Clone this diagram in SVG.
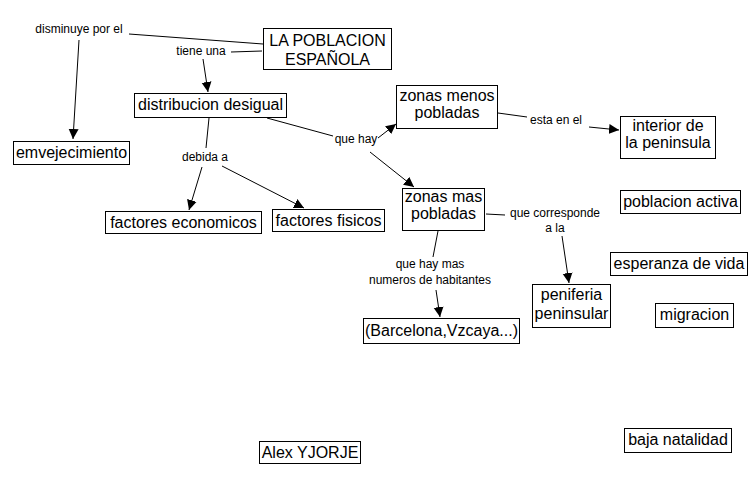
<svg xmlns="http://www.w3.org/2000/svg" width="755" height="484" viewBox="0 0 755 484">
<style>
.n rect{fill:#fff;stroke:#000;stroke-width:1}
.n text{font-family:"Liberation Sans",Arial,sans-serif;font-size:16px;fill:#000;text-anchor:middle}
.l{font-family:"Liberation Sans",Arial,sans-serif;font-size:12px;fill:#000;text-anchor:middle}
.c line{stroke:#000;stroke-width:1}
.a{marker-end:url(#ah)}
</style>
<defs>
<marker id="ah" viewBox="0 0 10 10" refX="10" refY="5" markerWidth="10" markerHeight="11" markerUnits="userSpaceOnUse" orient="auto">
<path d="M0,0 L10,5 L0,10 z" fill="#000"/>
</marker>
</defs>
<rect width="755" height="484" fill="#fff"/>
<g id="connectors" class="c">
<line x1="263" y1="44" x2="129" y2="34"/>
<line class="a" x1="79" y1="40" x2="73" y2="139"/>
<line x1="262" y1="51" x2="231" y2="52"/>
<line class="a" x1="203" y1="59" x2="208" y2="92"/>
<line x1="267" y1="118" x2="333" y2="136"/>
<line class="a" x1="378" y1="138" x2="396" y2="124"/>
<line class="a" x1="370" y1="152" x2="414" y2="187"/>
<line x1="209" y1="118" x2="206" y2="148"/>
<line class="a" x1="202" y1="167" x2="189" y2="210"/>
<line class="a" x1="222" y1="166" x2="304" y2="208"/>
<line x1="498" y1="113" x2="527" y2="117"/>
<line class="a" x1="589" y1="127" x2="619" y2="130"/>
<line x1="486" y1="214" x2="505" y2="215"/>
<line class="a" x1="562" y1="236" x2="569" y2="283"/>
<line x1="438" y1="231" x2="433" y2="257"/>
<line class="a" x1="436" y1="290" x2="440" y2="317"/>
</g>
<g id="labels">
<text class="l" x="79" y="33">disminuye por el</text>
<text class="l" x="201" y="55">tiene una</text>
<text class="l" x="356" y="143">que hay</text>
<text class="l" x="205" y="161">debida a</text>
<text class="l" x="556" y="124">esta en el</text>
<text class="l" x="555" y="217">que corresponde</text>
<text class="l" x="555" y="232">a la</text>
<text class="l" x="430" y="268">que hay mas</text>
<text class="l" x="430" y="284">numeros de habitantes</text>
</g>
<g id="n-poblacion" class="n"><rect x="263.5" y="28.5" width="128" height="41"/><text x="327.5" y="46">LA POBLACION</text><text x="327.5" y="65">ESPAÑOLA</text></g>
<g id="n-distribucion" class="n"><rect x="134.5" y="93.5" width="152" height="24"/><text x="210.5" y="110">distribucion desigual</text></g>
<g id="n-emvejecimiento" class="n"><rect x="13.5" y="141.5" width="116" height="23"/><text x="71.5" y="158">emvejecimiento</text></g>
<g id="n-zonas-menos" class="n"><rect x="396.5" y="85.5" width="101" height="43"/><text x="447" y="101">zonas menos</text><text x="447" y="118">pobladas</text></g>
<g id="n-interior" class="n"><rect x="620.5" y="116.5" width="95" height="42"/><text x="668" y="131">interior de</text><text x="668" y="148">la peninsula</text></g>
<g id="n-zonas-mas" class="n"><rect x="402.5" y="188.5" width="82" height="42"/><text x="443.5" y="202">zonas mas</text><text x="443.5" y="219">pobladas</text></g>
<g id="n-poblacion-activa" class="n"><rect x="620.5" y="190.5" width="120" height="23"/><text x="680.5" y="207">poblacion activa</text></g>
<g id="n-factores-fisicos" class="n"><rect x="272.5" y="209.5" width="112" height="22"/><text x="328.5" y="226">factores fisicos</text></g>
<g id="n-factores-economicos" class="n"><rect x="105.5" y="211.5" width="156" height="22"/><text x="183.5" y="228">factores economicos</text></g>
<g id="n-esperanza" class="n"><rect x="610.5" y="252.5" width="137" height="23"/><text x="679" y="269">esperanza de vida</text></g>
<g id="n-peniferia" class="n"><rect x="532.5" y="284.5" width="78" height="43"/><text x="571.5" y="300">peniferia</text><text x="571.5" y="319">peninsular</text></g>
<g id="n-migracion" class="n"><rect x="655.5" y="303.5" width="78" height="24"/><text x="694.5" y="320">migracion</text></g>
<g id="n-barcelona" class="n"><rect x="363.5" y="318.5" width="156" height="25"/><text x="441.5" y="336">(Barcelona,Vzcaya...)</text></g>
<g id="n-baja-natalidad" class="n"><rect x="624.5" y="428.5" width="107" height="24"/><text x="678" y="445">baja natalidad</text></g>
<g id="n-alex" class="n"><rect x="259.5" y="441.5" width="101" height="22"/><text x="310" y="458">Alex YJORJE</text></g>
</svg>
